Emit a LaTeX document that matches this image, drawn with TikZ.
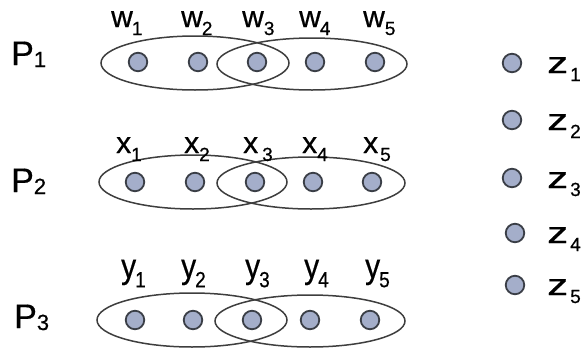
\documentclass[tikz,border=0pt]{standalone}
\usepackage{fontspec}
\setmainfont{Liberation Sans}
\newfontfamily\labfont{Liberation Sans}[FakeBold=0.6]
\usepackage{graphicx}
\definecolor{dotfill}{HTML}{A4AECA}
\definecolor{dotdraw}{HTML}{3A3E46}
\definecolor{ringcol}{HTML}{3E3E3E}
\newcommand\sublab[3]{\labfont\fontsize{30}{30}\selectfont #1\hspace{#3}\raisebox{-8pt}{\fontsize{19}{19}\selectfont #2}}
\newcommand\plab[1]{\labfont\fontsize{34}{34}\selectfont P\raisebox{-2pt}{\fontsize{22}{22}\selectfont #1}}
\newcommand\zlab[1]{\labfont\fontsize{30}{30}\selectfont \scalebox{1.4}[1]{z}\hspace{2pt}\raisebox{-8pt}{\fontsize{19}{19}\selectfont #1}}
\begin{document}
\begin{tikzpicture}[x=1pt,y=-1pt,
  dot/.style={circle,minimum size=18.5pt,inner sep=0pt,fill=dotfill,draw=dotdraw,line width=1.8pt},
  ring/.style={draw=ringcol,line width=1.5pt},
  lab/.style={anchor=base west,inner sep=0pt},
  plabel/.style={anchor=base west,inner sep=0pt}]
\useasboundingbox (0,0) rectangle (582,354);
% row 1
\draw[ring] (195,63) ellipse [x radius=94, y radius=27];
\draw[ring] (312,64) ellipse [x radius=95, y radius=26];
\foreach \x [count=\i] in {138,198,257,315,375} \node[dot] (w\i) at (\x,62) {};
\node[plabel] (P1) at (11,65) {\plab{1}};
\node[lab] (lw1) at (111,27) {\sublab{w}{1}{-1pt}};
\node[lab] (lw2) at (181,27) {\sublab{w}{2}{-1pt}};
\node[lab] (lw3) at (242,27) {\sublab{w}{3}{0pt}};
\node[lab] (lw4) at (299,27) {\sublab{w}{4}{-1pt}};
\node[lab] (lw5) at (363,27) {\sublab{w}{5}{0pt}};
% row 2
\draw[ring] (193,182) ellipse [x radius=94, y radius=27];
\draw[ring] (311,183) ellipse [x radius=94, y radius=26];
\foreach \x [count=\i] in {135,195,255,313,372} \node[dot] (x\i) at (\x,182) {};
\node[plabel] (P2) at (11,192) {\plab{2}};
\node[lab] (lx1) at (116,153) {\sublab{x}{1}{0pt}};
\node[lab] (lx2) at (184,153) {\sublab{x}{2}{0pt}};
\node[lab] (lx3) at (243,153) {\sublab{x}{3}{4pt}};
\node[lab] (lx4) at (302,153) {\sublab{x}{4}{0pt}};
\node[lab] (lx5) at (363,153) {\sublab{x}{5}{2pt}};
% row 3
\draw[ring] (192,320) ellipse [x radius=95, y radius=27];
\draw[ring] (310,321) ellipse [x radius=95, y radius=26];
\foreach \x [count=\i] in {135,193,252,310,370} \node[dot] (y\i) at (\x,320) {};
\node[plabel] (P3) at (14,328) {\plab{3}};
\node[lab] (ly1) at (121,278) {\scalebox{1}[1.15]{\sublab{y}{1}{-1pt}}};
\node[lab] (ly2) at (181,278) {\scalebox{1}[1.15]{\sublab{y}{2}{-1pt}}};
\node[lab] (ly3) at (245,278) {\scalebox{1}[1.15]{\sublab{y}{3}{-1pt}}};
\node[lab] (ly4) at (304,278) {\scalebox{1}[1.15]{\sublab{y}{4}{-1pt}}};
\node[lab] (ly5) at (365,278) {\scalebox{1}[1.15]{\sublab{y}{5}{-1pt}}};
% z column
\foreach \yy/\xx [count=\i] in {63/512,120/512,178/512,233/515,285/515} {
  \node[dot] (z\i) at (\xx,\yy) {};
  \node[lab] (lz\i) at (547,\yy+10) {\zlab{\i}};
}
\end{tikzpicture}
\end{document}
